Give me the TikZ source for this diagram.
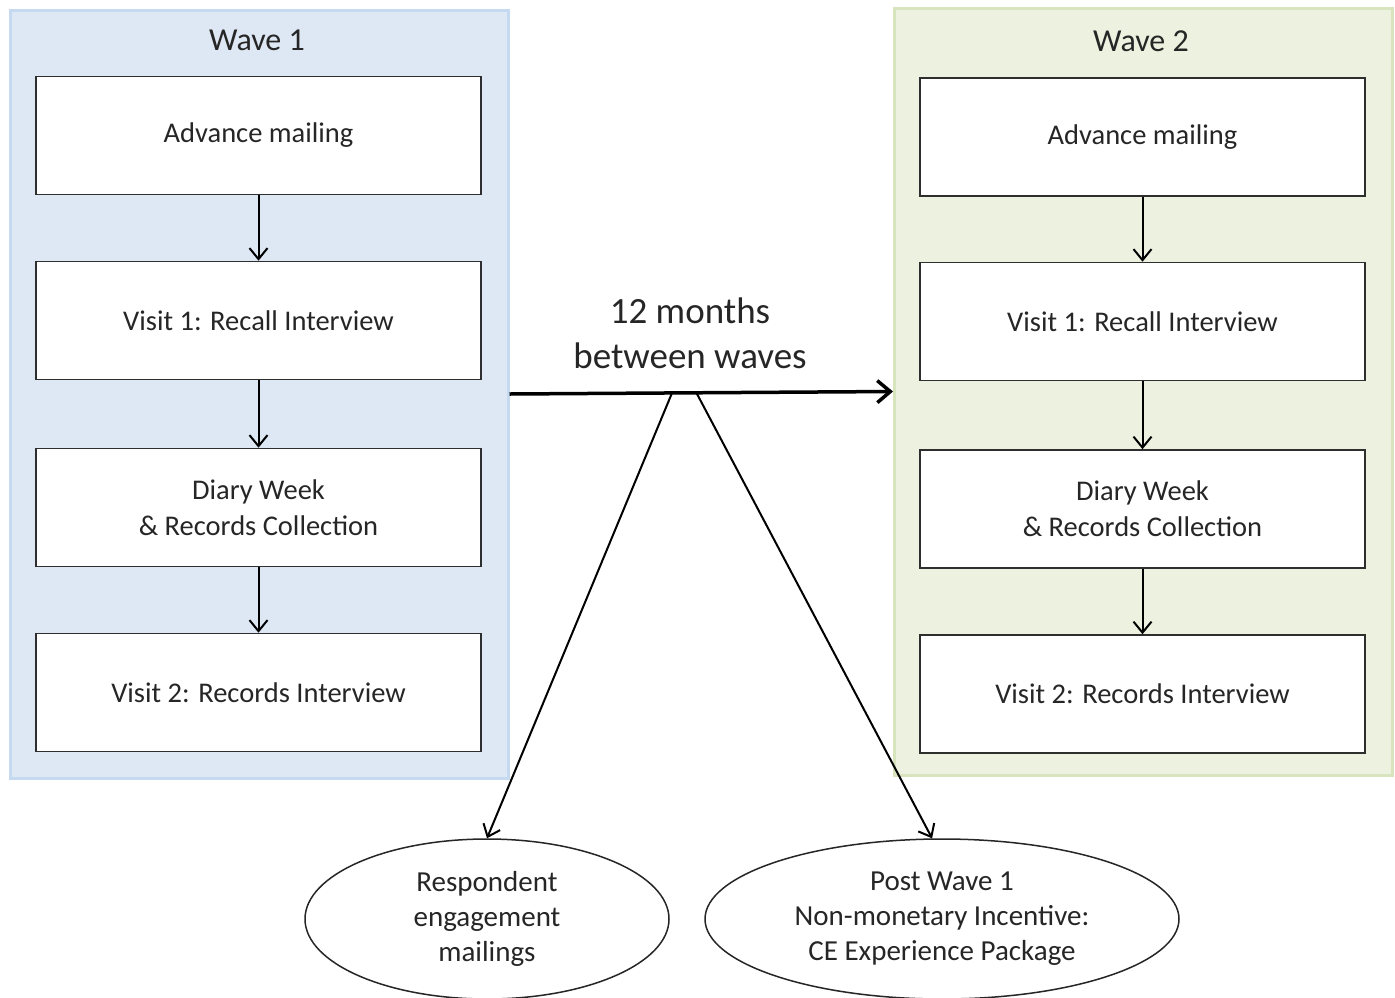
\documentclass[tikz,border=0pt]{standalone}
\usepackage{fontspec}
\setmainfont{Carlito}
\usetikzlibrary{arrows.meta,shapes.geometric}
\definecolor{bluefill}{HTML}{DEE8F4}
\definecolor{blueedge}{HTML}{C5D9F1}
\definecolor{greenfill}{HTML}{EDF2E0}
\definecolor{greenedge}{HTML}{D7E4BD}
\definecolor{boxline}{HTML}{2E2E2E}
\tikzset{
  wavebg/.style={draw=#1edge, fill=#1fill, line width=3pt, minimum width=498pt, minimum height=768pt, inner sep=0pt},
  stepbox/.style={draw=boxline, fill=white, line width=1.6pt, minimum width=445pt, minimum height=118pt, align=center, font=\fontsize{28.5}{36}\selectfont, text=black!85, inner sep=0pt},
  oval/.style={ellipse, draw=black!85, line width=1.5pt, fill=white, minimum height=160pt, align=center, font=\fontsize{29}{35}\selectfont, text=black!85, inner sep=0pt},
  title/.style={font=\fontsize{32}{34}\selectfont, text=black!85},
  flow/.style={-{Straight Barb[length=11pt,width=18pt,line width=2pt]}, line width=2pt, black},
  big/.style={-{Straight Barb[length=13pt,width=22pt,line width=3.5pt]}, line width=3.5pt, black},
}
\begin{document}
\begin{tikzpicture}[x=1pt,y=-1pt]
\useasboundingbox (0,0) rectangle (1395,997);
\fill[white] (0,0) rectangle (1395,997);
\node[wavebg=blue] (w1) at (259,394) {};
\node[wavebg=green, minimum height=767pt] (w2) at (1143.5,391.5) {};
\node[title] (t1) at (257,40) {Wave 1};
\node[title] (t2) at (1141,41) {Wave 2};
\node[stepbox] (a1) at (258.5,135.5) {Advance mailing};
\node[stepbox] (b1) at (258.5,320.5) {Visit 1: Recall Interview};
\node[stepbox] (c1) at (258.5,507.5) {Diary Week\\\& Records Collection};
\node[stepbox] (d1) at (258.5,692.5) {Visit 2: Records Interview};
\node[stepbox] (a2) at (1142.5,137) {Advance mailing};
\node[stepbox] (b2) at (1142.5,321.5) {Visit 1: Recall Interview};
\node[stepbox] (c2) at (1142.5,509) {Diary Week\\\& Records Collection};
\node[stepbox] (d2) at (1142.5,694) {Visit 2: Records Interview};
\draw[flow] (a1) -- (b1);
\draw[flow] (b1) -- (c1);
\draw[flow] (c1) -- (d1);
\draw[flow] (a2) -- (b2);
\draw[flow] (b2) -- (c2);
\draw[flow] (c2) -- (d2);
\node[font=\fontsize{37}{45}\selectfont, align=center, text=black!85] (gap) at (690,333) {12 months\\between waves};
\draw[big] (w1.east) -- (w2.west);
\coordinate (m1) at (672,393);
\coordinate (m2) at (696,392);
\node[oval, minimum width=364pt] (e1) at (487,919) {Respondent\\engagement\\mailings};
\node[oval, minimum width=474pt] (e2) at (942,919) {Post Wave 1\\Non-monetary Incentive:\\CE Experience Package};
\draw[flow] (m1) -- (e1.north);
\draw[flow] (m2) -- (e2.97);
\end{tikzpicture}
\end{document}
